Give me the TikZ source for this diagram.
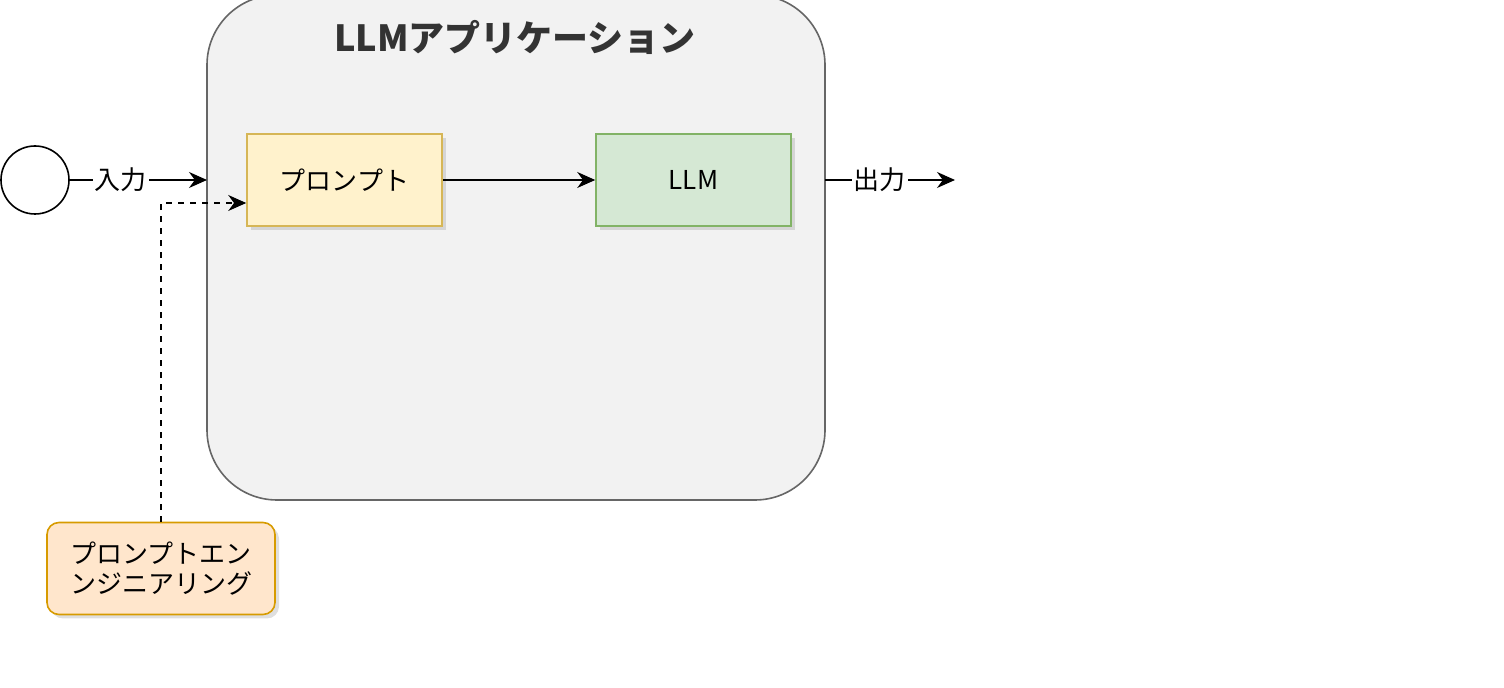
\documentclass[tikz,border=0pt]{standalone}
\usepackage{fontspec}
\setmainfont{Noto Sans CJK JP}
\usetikzlibrary{shadows,arrows.meta}
\definecolor{appfill}{HTML}{F2F2F2}
\definecolor{appline}{HTML}{666666}
\definecolor{promptfill}{HTML}{FFF2CC}
\definecolor{promptline}{HTML}{D6B656}
\definecolor{llmfill}{HTML}{D5E8D4}
\definecolor{llmline}{HTML}{82B366}
\definecolor{engfill}{HTML}{FFE6CC}
\definecolor{engline}{HTML}{D79B00}

\begin{document}
\begin{tikzpicture}[x=0.5pt,y=-0.5pt,
  block/.style={draw,thick,minimum width=97.5pt,minimum height=46pt,
    font=\fontsize{13}{15}\selectfont,drop shadow={opacity=0.25,shadow xshift=2pt,shadow yshift=-2pt}},
  arr/.style={-{Stealth[length=9pt,width=8pt]},semithick},
  lbl/.style={fill=white,inner sep=1pt,font=\fontsize{13}{15}\selectfont}]
  \useasboundingbox (0,0) rectangle (1504,688);

  % Application frame
  \draw[appline,fill=appfill,thick,rounded corners=35pt]
    (207,-5) rectangle (825,500);
  \node[font=\bfseries\fontsize{18}{20}\selectfont,text=black!80] (title) at (515,37) {LLMアプリケーション};
  \coordinate (inport) at (207,180);
  \coordinate (outport) at (825,180);
  \coordinate (outend) at (955,180);

  % Blocks
  \node[block,draw=promptline,fill=promptfill] (prompt) at (344.5,180) {プロンプト};
  \node[block,draw=llmline,fill=llmfill] (llm) at (693.5,180) {LLM};
  \node[block,draw=engline,fill=engfill,rounded corners=6pt,minimum width=114pt,align=center]
    (eng) at (161,568.5) {プロンプトエン\\ンジニアリング};
  \node[draw,thick,circle,minimum size=34pt,inner sep=0pt] (user) at (35,180) {};

  % Flows
  \draw[arr] (user) -- node[lbl,pos=0.37] {入力} (inport);
  \draw[arr] (prompt) -- (llm);
  \draw[arr] (outport) -- node[lbl,pos=0.42] {出力} (outend);
  \draw[arr,dashed] (eng.north) |- ([yshift=-11.5pt]prompt.west);
\end{tikzpicture}
\end{document}
